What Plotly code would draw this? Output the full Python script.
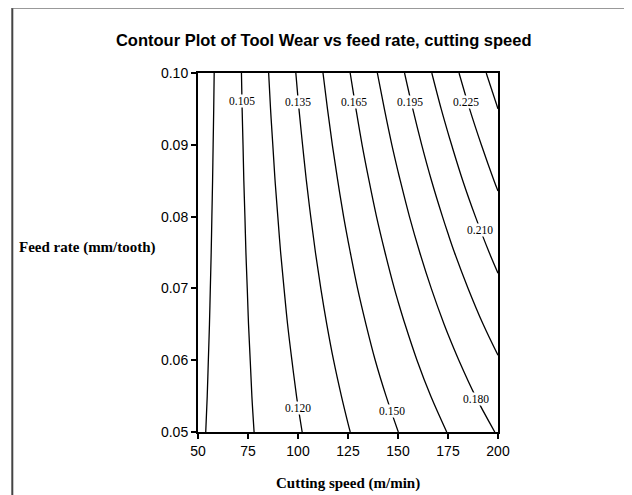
import plotly.graph_objects as go

# cutting speed (m/min) and feed rate (mm/tooth) grid, tool wear
cutting_speed = [50, 75, 100, 125, 150, 175, 200]
feed_rate = [0.050, 0.055, 0.060, 0.065, 0.070, 0.075, 0.080, 0.085, 0.090, 0.095, 0.100]
tool_wear = [
    [0.0876, 0.1031, 0.1187, 0.1343, 0.1499, 0.1654, 0.1810],
    [0.0869, 0.1037, 0.1205, 0.1372, 0.1540, 0.1708, 0.1876],
    [0.0863, 0.1042, 0.1222, 0.1402, 0.1582, 0.1761, 0.1941],
    [0.0856, 0.1048, 0.1240, 0.1431, 0.1623, 0.1815, 0.2007],
    [0.0850, 0.1053, 0.1257, 0.1461, 0.1665, 0.1868, 0.2072],
    [0.0843, 0.1059, 0.1275, 0.1490, 0.1706, 0.1922, 0.2138],
    [0.0837, 0.1064, 0.1292, 0.1520, 0.1748, 0.1975, 0.2203],
    [0.0830, 0.1070, 0.1310, 0.1549, 0.1789, 0.2029, 0.2269],
    [0.0824, 0.1075, 0.1327, 0.1579, 0.1831, 0.2082, 0.2334],
    [0.0817, 0.1081, 0.1345, 0.1608, 0.1872, 0.2136, 0.2400],
    [0.0811, 0.1086, 0.1362, 0.1638, 0.1914, 0.2189, 0.2465],
]

# contour labels (Minitab style, placed on the lines)
label_text = ["0.105", "0.135", "0.165", "0.195", "0.225", "0.210", "0.120", "0.150", "0.180"]
label_speed = [72, 100, 128, 156, 184, 191, 100, 147, 189]
label_feed = [0.0961, 0.0960, 0.0960, 0.0960, 0.0960, 0.0782, 0.0534, 0.0529, 0.0546]

fig = go.Figure()

# -------------------------- Contour lines -------------------------- #
fig.add_trace(
    go.Contour(
        x=cutting_speed,
        y=feed_rate,
        z=tool_wear,
        contours=dict(coloring="none", start=0.09, end=0.2401, size=0.015, showlabels=False),
        line=dict(color="black", width=1.3),
        showscale=False,
        hoverinfo="skip",
    )
)

annotations = []
for txt, xv, yv in zip(label_text, label_speed, label_feed):
    annotations.append(dict(
        x=xv, y=yv, xref="x", yref="y", text=txt, showarrow=False,
        font=dict(family="Liberation Serif", size=11.5, color="black"),
        bgcolor="white", borderpad=0,
    ))

# axis titles as annotations (y title is horizontal in the original)
annotations.append(dict(
    x=-0.134, y=0.515, xref="paper", yref="paper", xanchor="right", yanchor="middle",
    text="<b>Feed rate (mm/tooth)</b>", showarrow=False,
    font=dict(family="Liberation Serif", size=15, color="black"),
))
annotations.append(dict(
    x=0.5, y=-0.143, xref="paper", yref="paper", xanchor="center", yanchor="middle",
    text="<b>Cutting speed (m/min)</b>", showarrow=False,
    font=dict(family="Liberation Serif", size=15, color="black"),
))

# -------------------------- Configure Layout ---------------------- #
# page body adds an 8px offset, so the figure is 8px smaller and shifted back
fig.update_layout(
    width=624,
    height=487,
    margin=dict(l=190, r=134, t=65, b=63, autoexpand=False),
    paper_bgcolor="white",
    plot_bgcolor="white",
    showlegend=False,
    title=dict(
        text="<b>Contour Plot of Tool Wear vs feed rate, cutting speed</b>",
        x=0.506, xanchor="center", y=0.934, yanchor="middle",
        font=dict(family="Liberation Sans", size=16.5, color="black"),
    ),
    xaxis=dict(
        range=[50, 200],
        tickmode="array",
        tickvals=cutting_speed,
        ticks="outside",
        ticklen=5,
        tickwidth=1.5,
        tickcolor="black",
        showline=True,
        linecolor="black",
        linewidth=2,
        mirror=True,
        showgrid=False,
        zeroline=False,
        automargin=False,
        tickfont=dict(family="Liberation Sans", size=14, color="black"),
    ),
    yaxis=dict(
        range=[0.05, 0.10],
        dtick=0.01,
        tickformat=".2f",
        ticks="outside",
        ticklen=5,
        tickwidth=1.5,
        tickcolor="black",
        showline=True,
        linecolor="black",
        linewidth=2,
        mirror=True,
        showgrid=False,
        zeroline=False,
        automargin=False,
        tickfont=dict(family="Liberation Sans", size=14, color="black"),
    ),
    annotations=annotations,
    shapes=[
        # outer frame of the original figure (left and top edges only visible)
        dict(type="line", xref="paper", yref="paper", x0=-0.619, x1=-0.619, y0=-0.3, y1=1.181,
             line=dict(color="#444444", width=2)),
        dict(type="line", xref="paper", yref="paper", x0=-0.619, x1=1.5, y0=1.181, y1=1.181,
             line=dict(color="#777777", width=1.5)),
    ],
)

fig.write_html("out.html")
